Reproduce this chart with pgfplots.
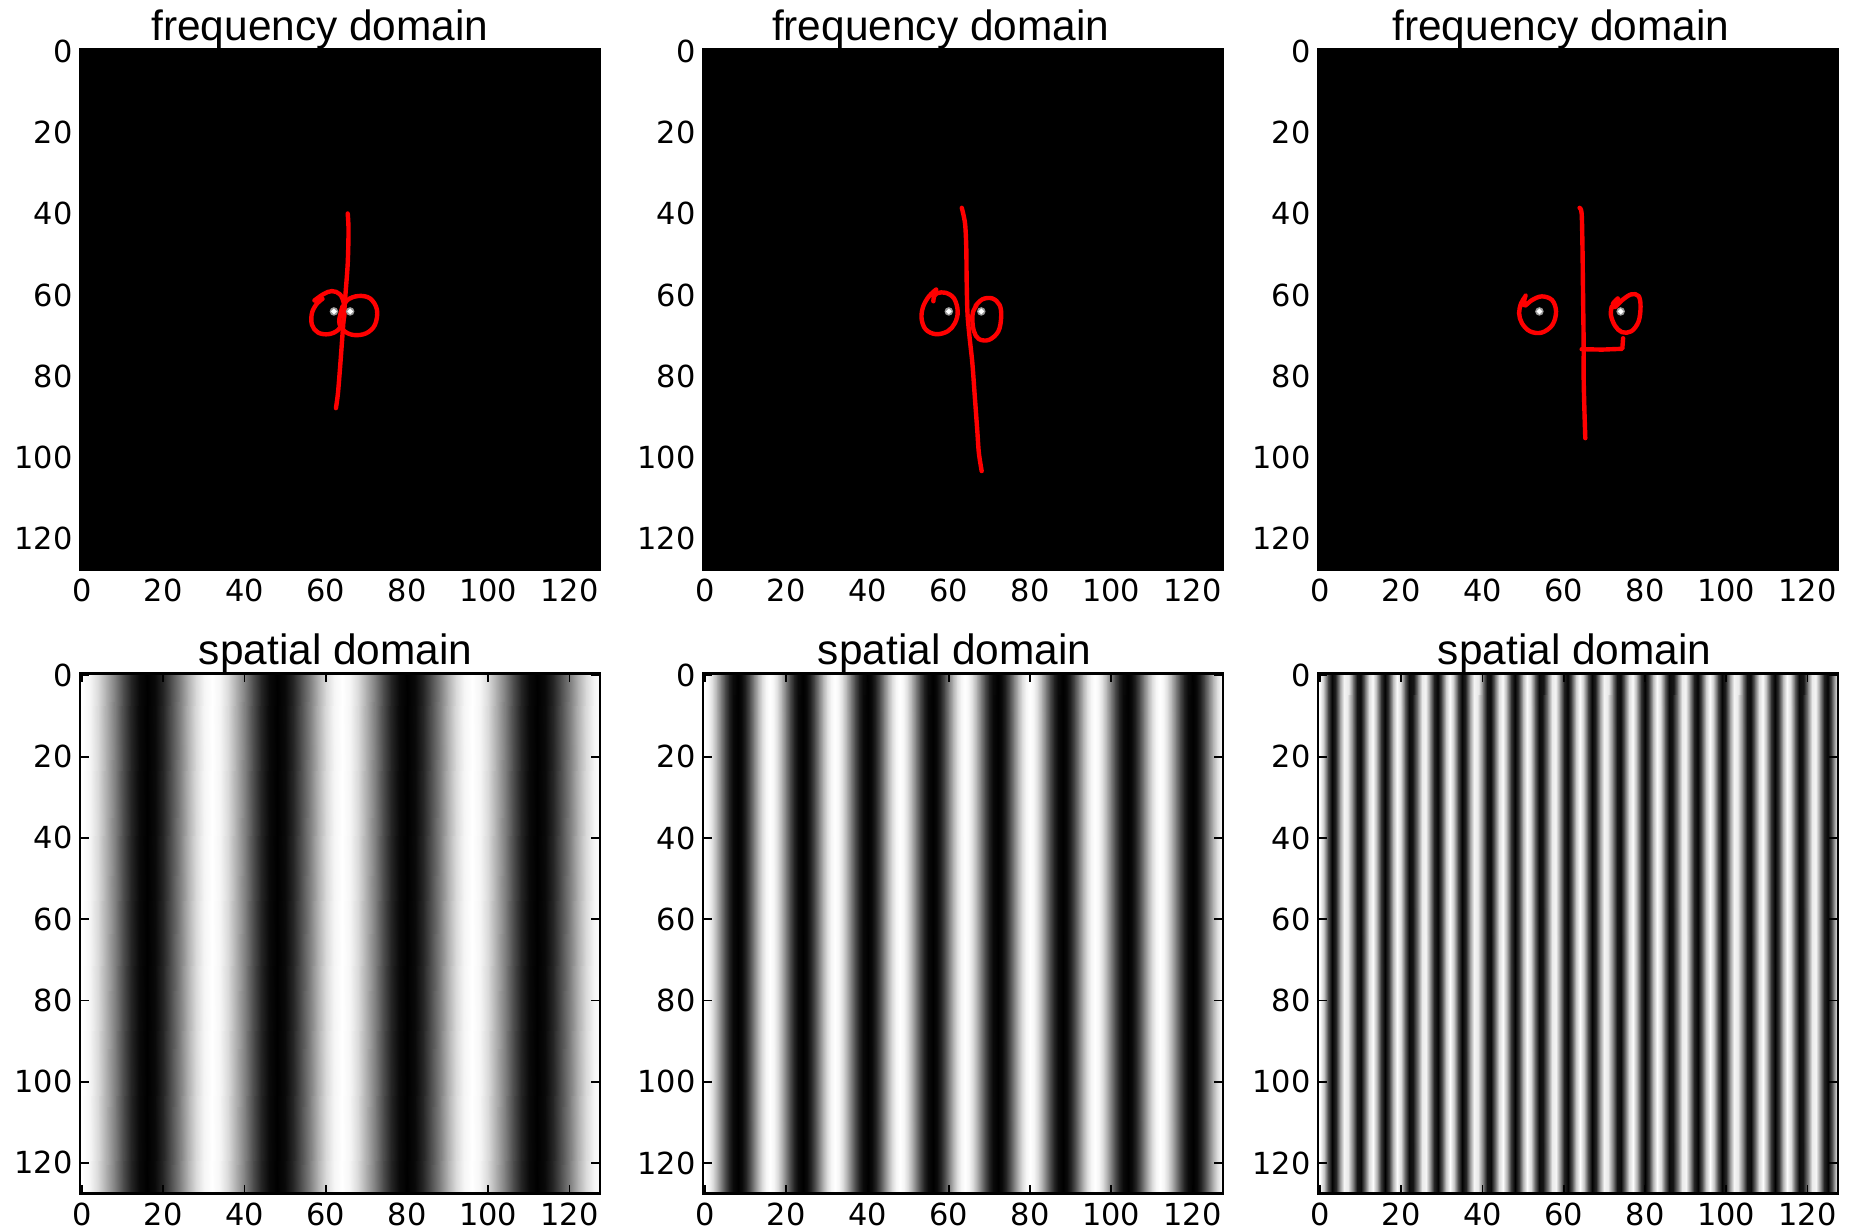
\documentclass[border=0pt]{standalone}
\usepackage{fontspec}
\setmainfont{Liberation Sans}
\newfontfamily\tickfont{DejaVu Sans}
\usepackage{pgfplots}
\usepackage{pgfplotstable}
\pgfplotsset{compat=1.18}

% Grey level of each pixel column (x = column, c = grey level 0..1);
% every block is listed twice: once for the top edge, once for the bottom edge.
\pgfplotstableread[row sep=\\]{
  x c\\
  -0.5 1\\ 0 1\\ 2 0.962\\ 4 0.854\\ 6 0.691\\ 8 0.5\\ 10 0.309\\ 12 0.146\\ 14 0.038\\ 16 0\\ 18 0.038\\ 20 0.146\\ 22 0.309\\ 24 0.5\\ 26 0.691\\ 28 0.854\\ 30 0.962\\
  32 1\\ 34 0.962\\ 36 0.854\\ 38 0.691\\ 40 0.5\\ 42 0.309\\ 44 0.146\\ 46 0.038\\ 48 0\\ 50 0.038\\ 52 0.146\\ 54 0.309\\ 56 0.5\\ 58 0.691\\ 60 0.854\\ 62 0.962\\
  64 1\\ 66 0.962\\ 68 0.854\\ 70 0.691\\ 72 0.5\\ 74 0.309\\ 76 0.146\\ 78 0.038\\ 80 0\\ 82 0.038\\ 84 0.146\\ 86 0.309\\ 88 0.5\\ 90 0.691\\ 92 0.854\\ 94 0.962\\
  96 1\\ 98 0.962\\ 100 0.854\\ 102 0.691\\ 104 0.5\\ 106 0.309\\ 108 0.146\\ 110 0.038\\ 112 0\\ 114 0.038\\ 116 0.146\\ 118 0.309\\ 120 0.5\\ 122 0.691\\ 124 0.854\\ 126 0.962\\ 127.5 0.99\\
  -0.5 1\\ 0 1\\ 2 0.962\\ 4 0.854\\ 6 0.691\\ 8 0.5\\ 10 0.309\\ 12 0.146\\ 14 0.038\\ 16 0\\ 18 0.038\\ 20 0.146\\ 22 0.309\\ 24 0.5\\ 26 0.691\\ 28 0.854\\ 30 0.962\\
  32 1\\ 34 0.962\\ 36 0.854\\ 38 0.691\\ 40 0.5\\ 42 0.309\\ 44 0.146\\ 46 0.038\\ 48 0\\ 50 0.038\\ 52 0.146\\ 54 0.309\\ 56 0.5\\ 58 0.691\\ 60 0.854\\ 62 0.962\\
  64 1\\ 66 0.962\\ 68 0.854\\ 70 0.691\\ 72 0.5\\ 74 0.309\\ 76 0.146\\ 78 0.038\\ 80 0\\ 82 0.038\\ 84 0.146\\ 86 0.309\\ 88 0.5\\ 90 0.691\\ 92 0.854\\ 94 0.962\\
  96 1\\ 98 0.962\\ 100 0.854\\ 102 0.691\\ 104 0.5\\ 106 0.309\\ 108 0.146\\ 110 0.038\\ 112 0\\ 114 0.038\\ 116 0.146\\ 118 0.309\\ 120 0.5\\ 122 0.691\\ 124 0.854\\ 126 0.962\\ 127.5 0.99\\
}\imgA

\pgfplotstableread[row sep=\\]{
  x c\\
  -0.5 1\\
  0 1\\ 1 0.962\\ 2 0.854\\ 3 0.691\\ 4 0.5\\ 5 0.309\\ 6 0.146\\ 7 0.038\\ 8 0\\ 9 0.038\\ 10 0.146\\ 11 0.309\\ 12 0.5\\ 13 0.691\\ 14 0.854\\ 15 0.962\\
  16 1\\ 17 0.962\\ 18 0.854\\ 19 0.691\\ 20 0.5\\ 21 0.309\\ 22 0.146\\ 23 0.038\\ 24 0\\ 25 0.038\\ 26 0.146\\ 27 0.309\\ 28 0.5\\ 29 0.691\\ 30 0.854\\ 31 0.962\\
  32 1\\ 33 0.962\\ 34 0.854\\ 35 0.691\\ 36 0.5\\ 37 0.309\\ 38 0.146\\ 39 0.038\\ 40 0\\ 41 0.038\\ 42 0.146\\ 43 0.309\\ 44 0.5\\ 45 0.691\\ 46 0.854\\ 47 0.962\\
  48 1\\ 49 0.962\\ 50 0.854\\ 51 0.691\\ 52 0.5\\ 53 0.309\\ 54 0.146\\ 55 0.038\\ 56 0\\ 57 0.038\\ 58 0.146\\ 59 0.309\\ 60 0.5\\ 61 0.691\\ 62 0.854\\ 63 0.962\\
  64 1\\ 65 0.962\\ 66 0.854\\ 67 0.691\\ 68 0.5\\ 69 0.309\\ 70 0.146\\ 71 0.038\\ 72 0\\ 73 0.038\\ 74 0.146\\ 75 0.309\\ 76 0.5\\ 77 0.691\\ 78 0.854\\ 79 0.962\\
  80 1\\ 81 0.962\\ 82 0.854\\ 83 0.691\\ 84 0.5\\ 85 0.309\\ 86 0.146\\ 87 0.038\\ 88 0\\ 89 0.038\\ 90 0.146\\ 91 0.309\\ 92 0.5\\ 93 0.691\\ 94 0.854\\ 95 0.962\\
  96 1\\ 97 0.962\\ 98 0.854\\ 99 0.691\\ 100 0.5\\ 101 0.309\\ 102 0.146\\ 103 0.038\\ 104 0\\ 105 0.038\\ 106 0.146\\ 107 0.309\\ 108 0.5\\ 109 0.691\\ 110 0.854\\ 111 0.962\\
  112 1\\ 113 0.962\\ 114 0.854\\ 115 0.691\\ 116 0.5\\ 117 0.309\\ 118 0.146\\ 119 0.038\\ 120 0\\ 121 0.038\\ 122 0.146\\ 123 0.309\\ 124 0.5\\ 125 0.691\\ 126 0.854\\ 127 0.962\\
  127.5 0.962\\
  -0.5 1\\
  0 1\\ 1 0.962\\ 2 0.854\\ 3 0.691\\ 4 0.5\\ 5 0.309\\ 6 0.146\\ 7 0.038\\ 8 0\\ 9 0.038\\ 10 0.146\\ 11 0.309\\ 12 0.5\\ 13 0.691\\ 14 0.854\\ 15 0.962\\
  16 1\\ 17 0.962\\ 18 0.854\\ 19 0.691\\ 20 0.5\\ 21 0.309\\ 22 0.146\\ 23 0.038\\ 24 0\\ 25 0.038\\ 26 0.146\\ 27 0.309\\ 28 0.5\\ 29 0.691\\ 30 0.854\\ 31 0.962\\
  32 1\\ 33 0.962\\ 34 0.854\\ 35 0.691\\ 36 0.5\\ 37 0.309\\ 38 0.146\\ 39 0.038\\ 40 0\\ 41 0.038\\ 42 0.146\\ 43 0.309\\ 44 0.5\\ 45 0.691\\ 46 0.854\\ 47 0.962\\
  48 1\\ 49 0.962\\ 50 0.854\\ 51 0.691\\ 52 0.5\\ 53 0.309\\ 54 0.146\\ 55 0.038\\ 56 0\\ 57 0.038\\ 58 0.146\\ 59 0.309\\ 60 0.5\\ 61 0.691\\ 62 0.854\\ 63 0.962\\
  64 1\\ 65 0.962\\ 66 0.854\\ 67 0.691\\ 68 0.5\\ 69 0.309\\ 70 0.146\\ 71 0.038\\ 72 0\\ 73 0.038\\ 74 0.146\\ 75 0.309\\ 76 0.5\\ 77 0.691\\ 78 0.854\\ 79 0.962\\
  80 1\\ 81 0.962\\ 82 0.854\\ 83 0.691\\ 84 0.5\\ 85 0.309\\ 86 0.146\\ 87 0.038\\ 88 0\\ 89 0.038\\ 90 0.146\\ 91 0.309\\ 92 0.5\\ 93 0.691\\ 94 0.854\\ 95 0.962\\
  96 1\\ 97 0.962\\ 98 0.854\\ 99 0.691\\ 100 0.5\\ 101 0.309\\ 102 0.146\\ 103 0.038\\ 104 0\\ 105 0.038\\ 106 0.146\\ 107 0.309\\ 108 0.5\\ 109 0.691\\ 110 0.854\\ 111 0.962\\
  112 1\\ 113 0.962\\ 114 0.854\\ 115 0.691\\ 116 0.5\\ 117 0.309\\ 118 0.146\\ 119 0.038\\ 120 0\\ 121 0.038\\ 122 0.146\\ 123 0.309\\ 124 0.5\\ 125 0.691\\ 126 0.854\\ 127 0.962\\
  127.5 0.962\\
}\imgB

\pgfplotstableread[row sep=\\]{
  x c\\
  -0.5 1\\
  0 1\\ 1 0.778\\ 2 0.309\\ 3 0.01\\ 4 0.146\\ 5 0.598\\ 6 0.962\\ 7 0.916\\ 8 0.5\\ 9 0.084\\ 10 0.038\\ 11 0.402\\ 12 0.854\\ 13 0.99\\ 14 0.691\\ 15 0.222\\ 16 0\\ 17 0.222\\ 18 0.691\\ 19 0.99\\ 20 0.854\\ 21 0.402\\ 22 0.038\\ 23 0.084\\ 24 0.5\\ 25 0.916\\ 26 0.962\\ 27 0.598\\ 28 0.146\\ 29 0.01\\ 30 0.309\\ 31 0.778\\
  32 1\\ 33 0.778\\ 34 0.309\\ 35 0.01\\ 36 0.146\\ 37 0.598\\ 38 0.962\\ 39 0.916\\ 40 0.5\\ 41 0.084\\ 42 0.038\\ 43 0.402\\ 44 0.854\\ 45 0.99\\ 46 0.691\\ 47 0.222\\ 48 0\\ 49 0.222\\ 50 0.691\\ 51 0.99\\ 52 0.854\\ 53 0.402\\ 54 0.038\\ 55 0.084\\ 56 0.5\\ 57 0.916\\ 58 0.962\\ 59 0.598\\ 60 0.146\\ 61 0.01\\ 62 0.309\\ 63 0.778\\
  64 1\\ 65 0.778\\ 66 0.309\\ 67 0.01\\ 68 0.146\\ 69 0.598\\ 70 0.962\\ 71 0.916\\ 72 0.5\\ 73 0.084\\ 74 0.038\\ 75 0.402\\ 76 0.854\\ 77 0.99\\ 78 0.691\\ 79 0.222\\ 80 0\\ 81 0.222\\ 82 0.691\\ 83 0.99\\ 84 0.854\\ 85 0.402\\ 86 0.038\\ 87 0.084\\ 88 0.5\\ 89 0.916\\ 90 0.962\\ 91 0.598\\ 92 0.146\\ 93 0.01\\ 94 0.309\\ 95 0.778\\
  96 1\\ 97 0.778\\ 98 0.309\\ 99 0.01\\ 100 0.146\\ 101 0.598\\ 102 0.962\\ 103 0.916\\ 104 0.5\\ 105 0.084\\ 106 0.038\\ 107 0.402\\ 108 0.854\\ 109 0.99\\ 110 0.691\\ 111 0.222\\ 112 0\\ 113 0.222\\ 114 0.691\\ 115 0.99\\ 116 0.854\\ 117 0.402\\ 118 0.038\\ 119 0.084\\ 120 0.5\\ 121 0.916\\ 122 0.962\\ 123 0.598\\ 124 0.146\\ 125 0.01\\ 126 0.309\\ 127 0.778\\
  127.5 0.778\\
  -0.5 1\\
  0 1\\ 1 0.778\\ 2 0.309\\ 3 0.01\\ 4 0.146\\ 5 0.598\\ 6 0.962\\ 7 0.916\\ 8 0.5\\ 9 0.084\\ 10 0.038\\ 11 0.402\\ 12 0.854\\ 13 0.99\\ 14 0.691\\ 15 0.222\\ 16 0\\ 17 0.222\\ 18 0.691\\ 19 0.99\\ 20 0.854\\ 21 0.402\\ 22 0.038\\ 23 0.084\\ 24 0.5\\ 25 0.916\\ 26 0.962\\ 27 0.598\\ 28 0.146\\ 29 0.01\\ 30 0.309\\ 31 0.778\\
  32 1\\ 33 0.778\\ 34 0.309\\ 35 0.01\\ 36 0.146\\ 37 0.598\\ 38 0.962\\ 39 0.916\\ 40 0.5\\ 41 0.084\\ 42 0.038\\ 43 0.402\\ 44 0.854\\ 45 0.99\\ 46 0.691\\ 47 0.222\\ 48 0\\ 49 0.222\\ 50 0.691\\ 51 0.99\\ 52 0.854\\ 53 0.402\\ 54 0.038\\ 55 0.084\\ 56 0.5\\ 57 0.916\\ 58 0.962\\ 59 0.598\\ 60 0.146\\ 61 0.01\\ 62 0.309\\ 63 0.778\\
  64 1\\ 65 0.778\\ 66 0.309\\ 67 0.01\\ 68 0.146\\ 69 0.598\\ 70 0.962\\ 71 0.916\\ 72 0.5\\ 73 0.084\\ 74 0.038\\ 75 0.402\\ 76 0.854\\ 77 0.99\\ 78 0.691\\ 79 0.222\\ 80 0\\ 81 0.222\\ 82 0.691\\ 83 0.99\\ 84 0.854\\ 85 0.402\\ 86 0.038\\ 87 0.084\\ 88 0.5\\ 89 0.916\\ 90 0.962\\ 91 0.598\\ 92 0.146\\ 93 0.01\\ 94 0.309\\ 95 0.778\\
  96 1\\ 97 0.778\\ 98 0.309\\ 99 0.01\\ 100 0.146\\ 101 0.598\\ 102 0.962\\ 103 0.916\\ 104 0.5\\ 105 0.084\\ 106 0.038\\ 107 0.402\\ 108 0.854\\ 109 0.99\\ 110 0.691\\ 111 0.222\\ 112 0\\ 113 0.222\\ 114 0.691\\ 115 0.99\\ 116 0.854\\ 117 0.402\\ 118 0.038\\ 119 0.084\\ 120 0.5\\ 121 0.916\\ 122 0.962\\ 123 0.598\\ 124 0.146\\ 125 0.01\\ 126 0.309\\ 127 0.778\\
  127.5 0.778\\
}\imgC

\pgfplotsset{
  imgaxis/.style={
    scale only axis, width=130pt, height=130pt,
    anchor=south west,
    xmin=-0.5, xmax=127.5, ymin=-0.5, ymax=127.5,
    y dir=reverse,
    xtick={0,20,...,120}, ytick={0,20,...,120},
    tick align=inside, tick pos=both, ticklabel pos=left,
    major tick length=2.2pt,
    every tick/.style={black, line width=0.45pt},
    axis line style={black, line width=0.6pt},
    axis on top,
    tick label style={font=\tickfont\fontsize{7.6}{9}\selectfont, inner sep=0pt},
    xticklabel shift=2.2pt, yticklabel shift=1.7pt,
    /pgf/number format/assume math mode=true,
    every axis title/.style={at={(0.5,1)}, anchor=base, inner sep=0pt,
      yshift=2.3pt, font=\fontsize{10.6}{12.7}\selectfont},
    colormap={bw}{gray(0cm)=(0); gray(1cm)=(1)},
    point meta min=0, point meta max=1,
  },
  % a grey image: first half of the table is the upper edge, second half the lower edge;
  % for the finer gratings the shading runs far above the frame (clipped away) to keep
  % its sub-triangle joins out of the visible rows
  stripes/.style={surf, shader=interp, mesh/rows=2, point meta=explicit},
  stroke/.style={red, line width=1.1pt, line cap=round, line join=round},
  peak/.style={only marks, mark=*, mark size=0.85pt, color=black!40, mark options={draw=none, fill=black!40}},
  peakcore/.style={only marks, mark=*, mark size=0.45pt, color=white, mark options={draw=none, fill=white}},
}

\begin{document}
\begin{tikzpicture}
\useasboundingbox (0,0) rectangle (463.75pt,307.75pt);

% ---------------- frequency domain, 2 cycles ----------------
\begin{axis}[imgaxis, at={(20pt,165.4pt)}, title={frequency domain}, title style={xshift=-5pt}]
  \addplot[fill=black, draw=none] coordinates {(-0.5,-0.5) (127.5,-0.5) (127.5,127.5) (-0.5,127.5) (-0.5,-0.5)};
  \addplot[peak] coordinates {(62,64) (66,64)};
  \addplot[peakcore] coordinates {(62,64) (66,64)};
  \addplot[stroke, smooth, tension=0.5] coordinates {(65.4,39.9) (65.6,44.0) (65.4,52.2) (64.8,60.4) (64.2,68.5) (63.6,76.7) (63.0,84.1) (62.5,87.8)};
  \addplot[stroke, smooth, tension=0.6] coordinates {(57.2,61.3) (59.5,59.7) (61.5,59.0) (63.5,59.8) (64.5,62.4) (64.4,66.1) (63.1,68.5) (60.7,69.6) (58.1,69.2) (56.6,67.3) (56.6,64.4) (57.8,62.1) (59.2,60.9)};
  \addplot[stroke, smooth, tension=0.6] coordinates {(63.8,64.0) (65.2,61.3) (68.0,60.2) (70.9,60.8) (72.6,63.6) (72.1,67.3) (69.9,69.4) (66.8,69.8) (64.4,68.7) (63.3,66.5) (64.1,62.8)};
\end{axis}

% ---------------- frequency domain, 4 cycles ----------------
\begin{axis}[imgaxis, at={(175.75pt,165.4pt)}, title={frequency domain}, title style={xshift=-5.6pt}]
  \addplot[fill=black, draw=none] coordinates {(-0.5,-0.5) (127.5,-0.5) (127.5,127.5) (-0.5,127.5) (-0.5,-0.5)};
  \addplot[peak] coordinates {(60,64) (68,64)};
  \addplot[peakcore] coordinates {(60,64) (68,64)};
  \addplot[stroke, smooth, tension=0.5] coordinates {(63.2,38.5) (64.0,42.3) (64.3,48.1) (64.4,56.3) (64.6,64.4) (65.1,70.2) (65.8,76.7) (66.4,84.9) (67.0,93.1) (67.4,98.8) (68.1,103.3)};
  \addplot[stroke, smooth, tension=0.6] coordinates {(56.9,58.6) (55.1,60.3) (53.7,62.8) (53.3,65.7) (54.3,68.4) (56.8,69.6) (59.7,68.9) (61.5,66.9) (62.2,64.0) (61.3,60.8) (59.2,59.4) (57.2,59.5) (56.4,60.3) (56.2,61.5)};
  \addplot[stroke, smooth, tension=0.6] coordinates {(66.6,62.6) (68.3,61.0) (70.7,60.8) (72.5,62.4) (72.9,65.3) (72.2,68.9) (69.9,71.0) (67.4,70.8) (66.2,68.9) (65.8,66.1) (66.0,64.0) (66.8,62.6)};
\end{axis}

% ---------------- frequency domain, 10 cycles ----------------
\begin{axis}[imgaxis, at={(329.5pt,165.4pt)}, title={frequency domain}, title style={xshift=-4.25pt}]
  \addplot[fill=black, draw=none] coordinates {(-0.5,-0.5) (127.5,-0.5) (127.5,127.5) (-0.5,127.5) (-0.5,-0.5)};
  \addplot[peak] coordinates {(54,64) (74,64)};
  \addplot[peakcore] coordinates {(54,64) (74,64)};
  \addplot[stroke, smooth, tension=0.5] coordinates {(63.9,38.5) (64.4,39.9) (64.6,48.1) (64.7,56.3) (64.8,64.4) (64.9,72.6) (64.9,80.8) (65.1,89.0) (65.3,95.2)};
  \addplot[stroke] coordinates {(64.4,73.3) (69.4,73.4) (74.4,73.2) (74.6,70.6)};
  \addplot[stroke, smooth, tension=0.6] coordinates {(50.6,60.1) (50.2,61.6) (50.4,62.6) (52.2,61.2) (54.6,60.3) (57.1,61.2) (58.1,64.0) (57.2,67.3) (54.6,69.2) (51.7,68.9) (49.7,66.9) (49.0,64.4) (49.5,62.0) (50.4,60.5)};
  \addplot[stroke, smooth, tension=0.6] coordinates {(73.3,60.8) (72.1,62.1) (72.5,63.0) (74.4,61.2) (76.6,59.8) (78.4,60.2) (78.9,62.8) (78.4,66.5) (76.6,68.9) (74.3,69.1) (72.6,67.5) (71.6,64.9) (71.8,62.8)};
\end{axis}

% ---------------- spatial domain, period 32 ----------------
\begin{axis}[imgaxis, at={(20pt,9.4pt)}, title={spatial domain}, title style={xshift=-1.1pt}]
  \addplot[stripes] table[x=x, y expr={\coordindex<66?-0.5:127.5}, meta=c] {\imgA};
\end{axis}

% ---------------- spatial domain, period 16 ----------------
\begin{axis}[imgaxis, at={(175.75pt,9.4pt)}, title={spatial domain}, title style={xshift=-2.1pt}]
  \addplot[stripes] table[x=x, y expr={\coordindex<130?-1100.5:127.5}, meta=c] {\imgB};
\end{axis}

% ---------------- spatial domain, 20 cycles ----------------
\begin{axis}[imgaxis, at={(329.5pt,9.4pt)}, title={spatial domain}, title style={xshift=-0.85pt}]
  \addplot[stripes] table[x=x, y expr={\coordindex<130?-1100.5:127.5}, meta=c] {\imgC};
\end{axis}
\end{tikzpicture}
\end{document}
